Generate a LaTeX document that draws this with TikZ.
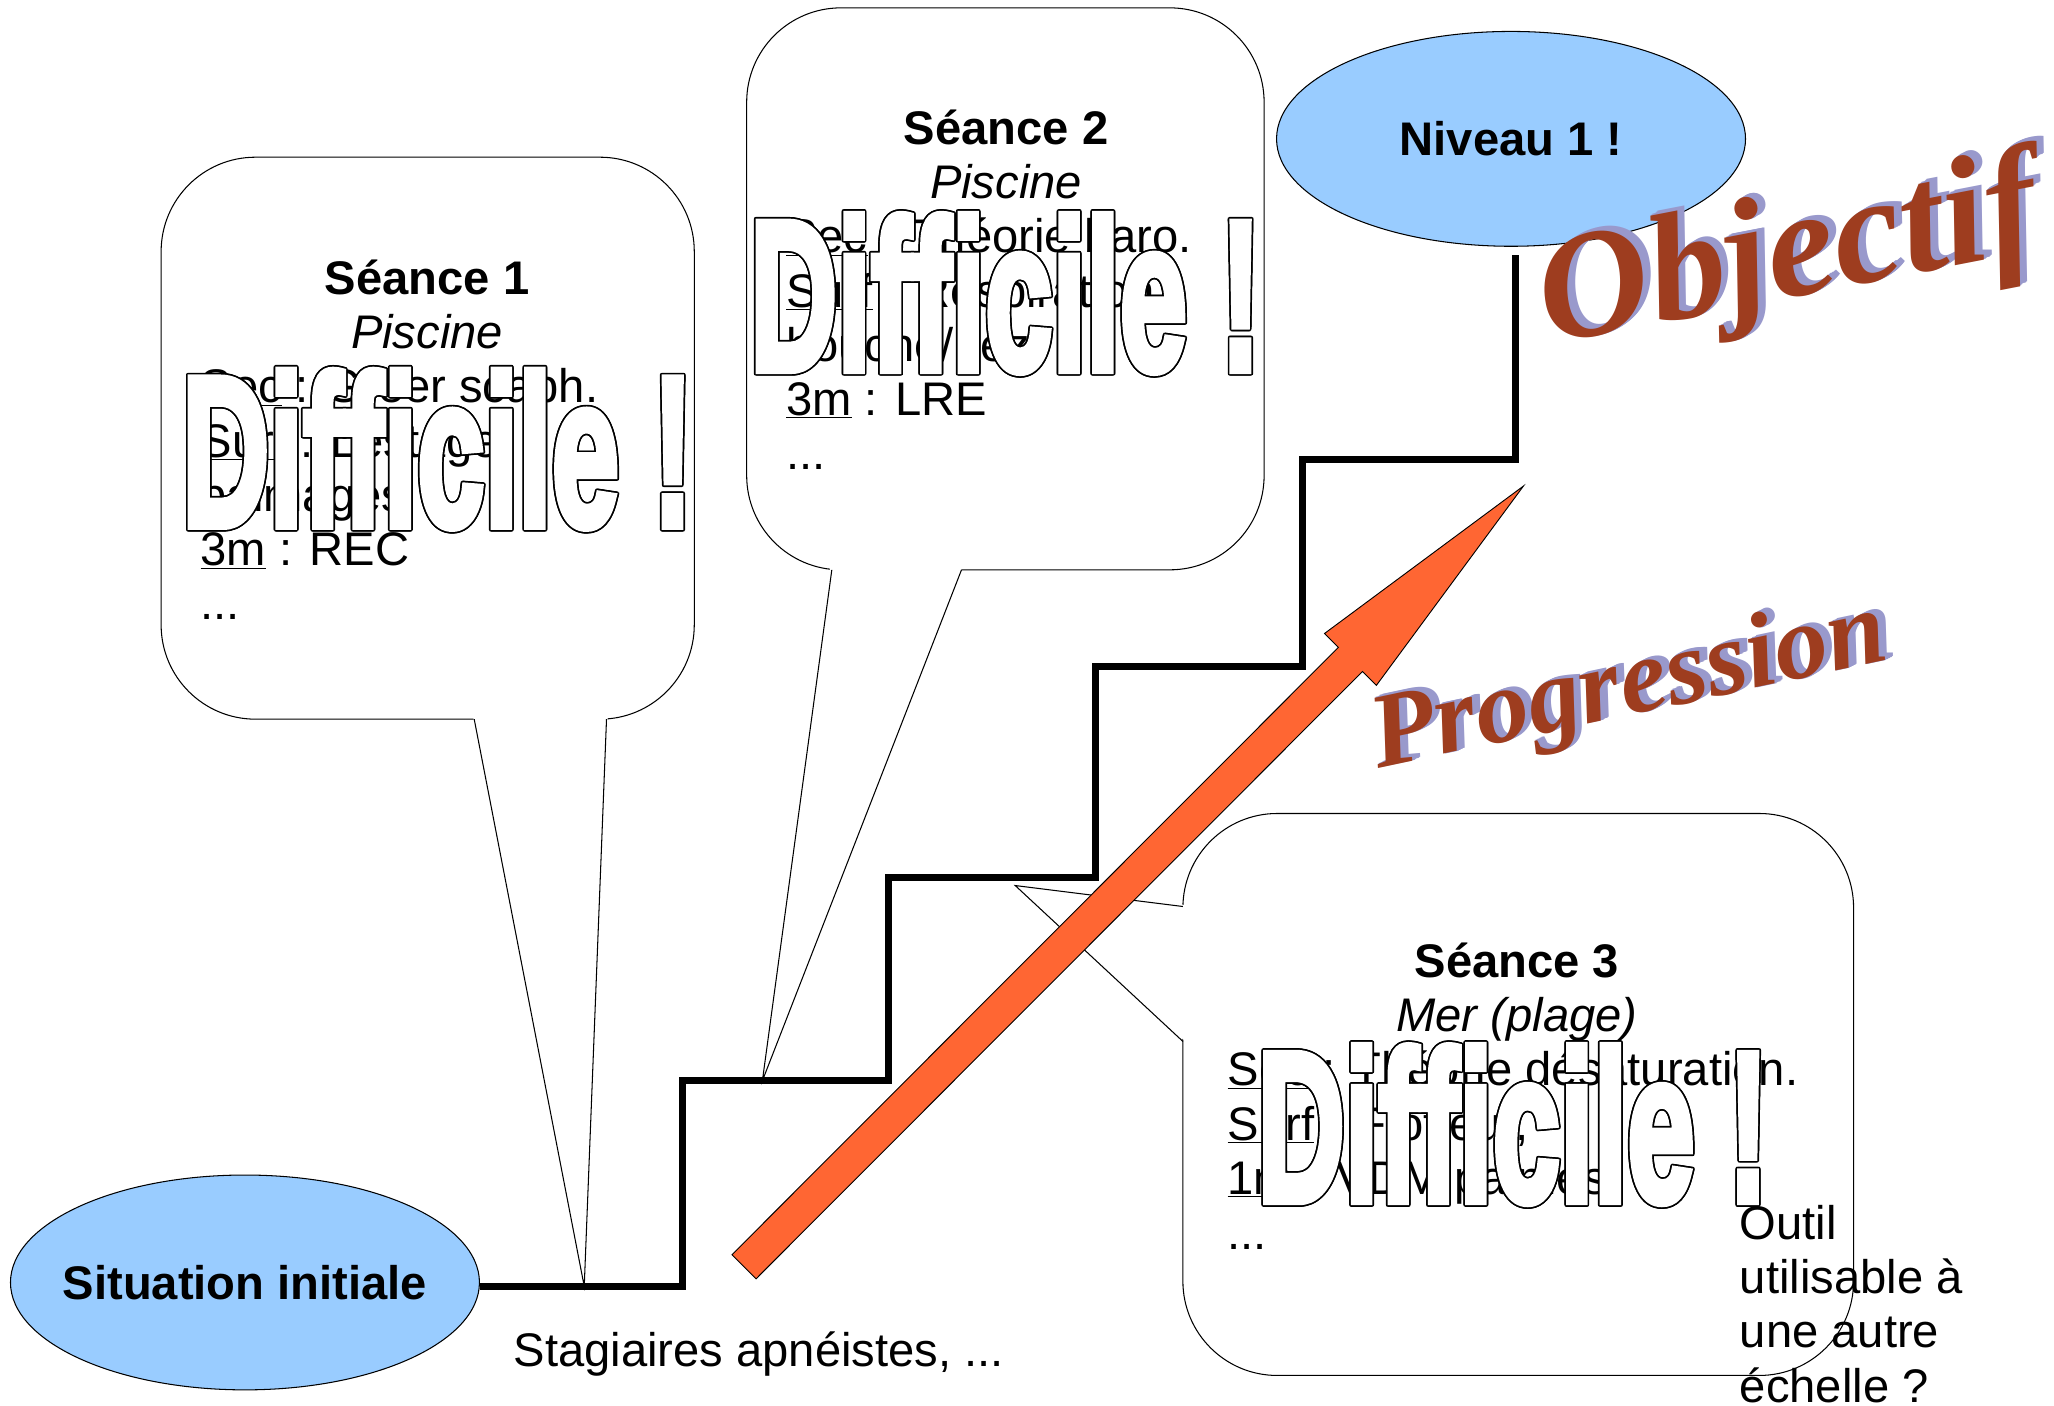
\documentclass[tikz,border=0pt]{standalone}
\usepackage{fontspec}
\usepackage{graphicx}
\setmainfont{Liberation Sans}
\newfontfamily\waf{Liberation Serif}
\newfontfamily\diffont{Liberation Sans}[FakeBold=4]
\usetikzlibrary{shapes.geometric,calc}
\definecolor{ellblue}{HTML}{99CCFF}
\definecolor{arroworange}{HTML}{FF6633}
\definecolor{waRed}{HTML}{9E3D1F}
\definecolor{waLav}{HTML}{9999CC}
\newcommand\difword{\resizebox{390pt}{118pt}{\diffont\bfseries Difficile !}}
\newcommand\objword{\resizebox{385pt}{!}{\waf\bfseries\itshape Objectif}}
\newcommand\progword{\resizebox{400pt}{!}{\waf\bfseries\itshape Progression}}
\begin{document}
\begin{tikzpicture}[x=1pt,y=-1pt,
  txt/.style={inner sep=0pt, font=\fontsize{36}{41.4}\selectfont},
  boldtxt/.style={inner sep=0pt, font=\fontsize{36}{41.4}\selectfont\bfseries},
  ittxt/.style={inner sep=0pt, font=\fontsize{36}{41.4}\selectfont\itshape},
  bodyline/.style={txt, anchor=base west},
  bubble/.style={draw=black, line width=0.8pt, fill=white, rounded corners=72pt, inner sep=0pt},
  tailline/.style={draw=black, line width=0.8pt, line join=miter},
  goal/.style={ellipse, draw=black, line width=0.8pt, fill=ellblue, inner sep=0pt, minimum width=358pt, minimum height=164pt},
  stair/.style={line width=5.5pt, line join=miter, line cap=butt},
  bigarrow/.style={draw=black, line width=0.7pt, fill=arroworange, line join=miter},
  outl/.style={inner sep=0pt, text=black},
  outf/.style={inner sep=0pt, text=white},
]
\fill[white] (0,0) rectangle (1568,1073);
\useasboundingbox (0,0) rectangle (1568,1073);

% ---- callout 1
\node[bubble, minimum width=407pt, minimum height=429pt] (b1) at (326.5,334.5) {};
\fill[white] (361,546) -- (446,982) -- (464,546) -- cycle;
\draw[tailline] (362,549) -- (446,982) -- (463,549);
% ---- callout 2
\node[bubble, minimum width=395pt, minimum height=429pt] (b2) at (767.5,220.5) {};
\fill[white] (634,432) -- (582,825) -- (735,432) -- cycle;
\draw[tailline] (635,435) -- (582,825) -- (734,435);
% ---- callout 3
\node[bubble, minimum width=512pt, minimum height=429pt] (b3) at (1159,835.5) {};
\fill[white] (906,691) -- (775,676) -- (906,796) -- cycle;
\draw[tailline] (903,692) -- (775,676) -- (903,795);

% ---- ellipses
\node[goal] (sit) at (187,979) {};
\node[boldtxt] (sittxt) at (sit.center) {Situation initiale};
\node[goal] (niv) at (1153.5,106) {};
\node[boldtxt] (nivtxt) at (niv.center) {Niveau 1 !};

% ---- staircase
\coordinate (s1) at (521,982);
\coordinate (s2) at (521,825);
\coordinate (s3) at (678,825);
\coordinate (s4) at (678,670);
\coordinate (s5) at (836,670);
\coordinate (s6) at (836,509);
\coordinate (s7) at (994,509);
\coordinate (s8) at (994,351);
\coordinate (s9) at (1157,351);
\coordinate (s10) at (1157,195);
\draw[stair] ([yshift=-3pt]sit.east) -- (s1) -- (s2) -- (s3) -- (s4) -- (s5) -- (s6) -- (s7) -- (s8) -- (s9) -- (s10);

% ---- big arrow
\draw[bigarrow] (558.8,957.8) -- (1021.7,494.2) -- (1011.1,483.6) -- (1163,371)
  -- (1050.7,523.2) -- (1040.1,512.6) -- (577.2,976.2) -- cycle;

% ---- texts callout 1
\node[boldtxt, anchor=base] (t1a) at (326,225) {Séance 1};
\node[ittxt, anchor=base] (t1b) at (326,266) {Piscine};
\node[bodyline] (t1c) at (153,307.5) {\underline{Sec} : Gréer scaph.};
\node[bodyline] (t1d) at (153,349) {\underline{Surf} : Lestage,};
\node[bodyline] (t1e) at (153,390.5) {palmages};
\node[bodyline] (t1f) at (153,432) {\underline{3m} : REC};
\node[bodyline] (t1g) at (153,473) {...};
% ---- texts callout 2
\node[boldtxt, anchor=base] (t2a) at (768,110) {Séance 2};
\node[ittxt, anchor=base] (t2b) at (768,151.5) {Piscine};
\node[bodyline] (t2c) at (600,193) {\underline{Sec} : Théorie baro.};
\node[bodyline] (t2d) at (600,234.5) {\underline{Surf} : Respiration};
\node[bodyline] (t2e) at (600,276) {bouche/nez,};
\node[bodyline] (t2f) at (600,317) {\underline{3m} : LRE};
\node[bodyline] (t2g) at (600,358.5) {...};
% ---- texts callout 3
\node[boldtxt, anchor=base] (t3a) at (1158,746) {Séance 3};
\node[ittxt, anchor=base] (t3b) at (1158,787.5) {Mer (plage)};
\node[bodyline] (t3c) at (937,829) {\underline{Sec} : Théorie désaturation.};
\node[bodyline] (t3d) at (937,870.5) {\underline{Surf} : Flotteur,};
\node[bodyline] (t3e) at (937,912) {\underline{1m} : VDM palmes};
\node[bodyline] (t3f) at (937,953.5) {...};
% ---- side texts
\node[bodyline] (out1) at (1328,946) {Outil};
\node[bodyline] (out2) at (1328,987.5) {utilisable à};
\node[bodyline] (out3) at (1328,1029) {une autre};
\node[bodyline] (out4) at (1328,1070.5) {échelle ?};
\node[bodyline] (stag) at (392,1043) {Stagiaires apnéistes, ...};

% ---- outlined "Difficile !"
\foreach \a in {0,30,...,330} {
  \node[outl] at ($(334,343)+(\a:1.3pt)$) {\difword};
  \node[outl] at ($(767.5,224)+(\a:1.3pt)$) {\difword};
  \node[outl] at ($(1155,858.5)+(\a:1.3pt)$) {\difword};
}
\node[outf] (dif1) at (334,343) {\difword};
\node[outf] (dif2) at (767.5,224) {\difword};
\node[outf] (dif3) at (1155,858.5) {\difword};

% ---- word art
\foreach \i in {1,...,6} {
  \node[inner sep=0pt, text=waLav, rotate=11] at ($(1366,198)+(\i*1.0pt,\i*0.6pt)$) {\objword};
  \node[inner sep=0pt, text=waLav, rotate=12] at ($(1244,526)+(\i*1.0pt,\i*0.5pt)$) {\progword};
}
\node[inner sep=0pt, text=waRed, rotate=11] (obj) at (1366,198) {\objword};
\node[inner sep=0pt, text=waRed, rotate=12] (prog) at (1244,526) {\progword};
\end{tikzpicture}
\end{document}
